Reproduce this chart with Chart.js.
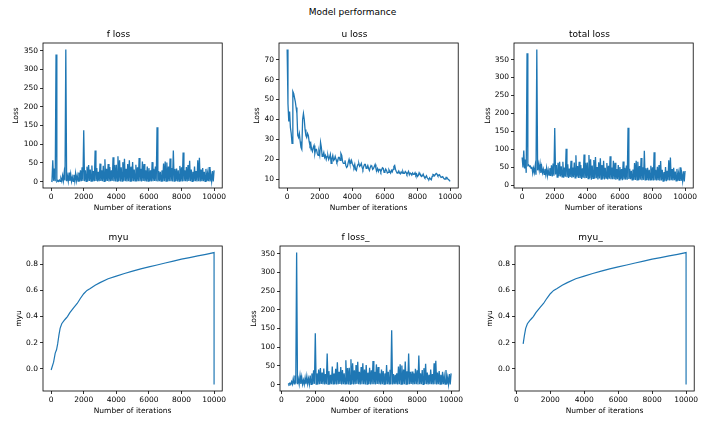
<!DOCTYPE html>
<html>
<head>
<meta charset="utf-8">
<script src="https://cdn.jsdelivr.net/npm/chart.js@4"></script>
<style>
  body { margin: 0; background: #fff; }
  #fig { position: relative; width: 705px; height: 422px; font-family: "DejaVu Sans", sans-serif; }
  #suptitle { position: absolute; left: 0; top: 7px; width: 705px; text-align: center; font-size: 9px; line-height: 10px; color: #000; }
  canvas { position: absolute; }
</style>
</head>
<body>
<div id="fig">
  <div id="suptitle">Model performance</div>
</div>
<script>
// iteration axis (one sample every 100 iterations)
const iterations = [
  0,100,200,300,400,500,600,700,800,900,
  1000,1100,1200,1300,1400,1500,1600,1700,1800,1900,
  2000,2100,2200,2300,2400,2500,2600,2700,2800,2900,
  3000,3100,3200,3300,3400,3500,3600,3700,3800,3900,
  4000,4100,4200,4300,4400,4500,4600,4700,4800,4900,
  5000,5100,5200,5300,5400,5500,5600,5700,5800,5900,
  6000,6100,6200,6300,6400,6500,6600,6700,6800,6900,
  7000,7100,7200,7300,7400,7500,7600,7700,7800,7900,
  8000,8100,8200,8300,8400,8500,8600,8700,8800,8900,
  9000,9100,9200,9300,9400,9500,9600,9700,9800,9900,
  10000
];
const halfStep = 50;   // the in-between readings sit half a step later

// f loss: peak read at each iteration step, low read half a step later
const fLossPeak = [
  2,57,35,340,3,4,8,16,24,353,
  15,24,20,12,18,22,16,24,30,38,
  137,30,40,44,32,43,28,83,36,26,
  48,30,42,60,34,47,39,30,65,44,
  45,68,57,38,52,61,34,47,57,40,
  52,32,45,38,63,34,54,47,30,40,
  36,30,52,34,40,145,28,26,30,48,
  54,51,40,62,36,83,34,35,30,42,
  38,78,30,39,44,56,32,26,40,28,
  57,64,32,36,26,34,22,39,19,28,
  30
];
const fLossLow = [
  1,2,1,0.5,0.5,0.5,1,2,3,1,
  1,2,1,0.5,1,2,1,0.5,1,2,
  1,0.5,1,2,1,0.5,1,1.5,0.5,1,
  2,1,0.5,1,1.5,0.5,1,2,1,0.5,
  1,1.5,0.5,1,2,1,0.5,1,1,0.5,
  1,2,0.5,1,1,0.5,1.5,1,0.5,1,
  1,0.5,1,2,1,0.5,1,1,0.5,1,
  1.5,0.5,1,1,0.5,1,2,0.5,1,1,
  0.5,1,1,0.5,1.5,1,0.5,1,1,0.5,
  1,0.5,1,1,0.5,1,1,0.5,1,0.5
];

// u loss at each iteration step, and half a step later
const uLoss = [
  75,39,36,28,53,49,43,31,29,25,
  43,35,31,32,27,25,26,23,25,22,
  22,26,22,21,20,22,21,18,22,20,
  20,19,21,23,19,18,17,16.5,20,18,
  18,16,15,16.5,18,17,16,16.5,17.5,16,
  15.5,16,16.5,15.5,17.5,14.5,14,15,14.8,15.5,
  14,14.5,13.5,14,14.5,15,17,14,13.5,13.2,
  13.8,14,13,13.5,13.2,12.3,12.8,13.2,12.5,12,
  11.5,13.3,12.3,11.8,11.5,11,10.8,10,10.2,11.5,
  12.3,12.5,12.6,12,11.5,11,10.6,10.2,11,10,
  9
];
const uLossMid = [
  48,44,33,54,51,46,32,33,26,40,
  40,32,33,29,28,24,27,25,23,24,
  28.5,21.5,23.5,22,21.5,20,22.5,20.5,19.5,21.5,
  18.5,21,19.5,22,18,19.5,16,18.5,18,19.5,
  17,17.5,14.5,17.5,16.5,18,15,17.5,15.5,17,
  14.5,17,15,16.5,15.5,15.5,15,13.8,15.8,13.5,
  15.2,13.2,14.8,13.2,13.8,16.5,15,13.2,14.2,12.8,
  13.2,13,14,12.5,14,13.2,12.2,12.5,13.3,12.6,
  12,12.5,11.5,12.6,10.8,11.8,10.2,10.8,9.8,12.5,
  11.8,13,11.8,12.3,11,11.4,10.2,11,10.3,9.6
];

// myu curve
const myuIter = [0,150,250,330,400,480,550,650,800,900,1000,1150,1400,1600,1800,2000,2200,2400,2700,3000,3500,4000,4500,5000,5500,6000,6500,7000,7500,8000,8500,9000,9500,10000,10000];
const myuValue = [-0.01,0.05,0.12,0.145,0.19,0.26,0.31,0.345,0.37,0.385,0.40,0.43,0.47,0.50,0.54,0.575,0.60,0.615,0.64,0.66,0.69,0.71,0.73,0.748,0.765,0.78,0.795,0.81,0.825,0.84,0.852,0.865,0.877,0.89,-0.12];

// tick labels
const xTicks = [0, 2000, 4000, 6000, 8000, 10000];
const lossTicks = [0, 50, 100, 150, 200, 250, 300, 350];
const uTicks = [10, 20, 30, 40, 50, 60, 70];
const myuTicks = [0.0, 0.2, 0.4, 0.6, 0.8];

const trimStart = 400;   // the "_" plots start here

const blue = '#1f77b4';
const family = '"DejaVu Sans", sans-serif';
const fig = document.getElementById('fig');

// build point lists: step reading, then the half-step reading
function interleave(top, mid) {
  const pts = [];
  for (let i = 0; i < iterations.length; i++) {
    pts.push({ x: iterations[i], y: top[i] });
    if (i < mid.length) pts.push({ x: iterations[i] + halfStep, y: mid[i] });
  }
  return pts;
}
const fLossPts = interleave(fLossPeak, fLossLow);
const uLossPts = interleave(uLoss, uLossMid);
const totalPts = interleave(fLossPeak.map((v, i) => v + uLoss[i]), fLossLow.map((v, i) => v + uLossMid[i]));
const myuPts = myuIter.map((x, i) => ({ x: x, y: myuValue[i] }));
const fLossTrim = fLossPts.filter(p => p.x >= trimStart);
const myuTrim = myuPts.filter(p => p.x >= trimStart);

function padRange(vals) {
  const lo = Math.min(...vals), hi = Math.max(...vals);
  const m = (hi - lo) * 0.05;
  return [lo - m, hi + m];
}

// axes frame (all four spines)
const frame = {
  id: 'frame',
  afterDatasetsDraw(chart) {
    const a = chart.chartArea, c = chart.ctx;
    c.save();
    c.strokeStyle = '#000';
    c.lineWidth = 0.8;
    c.strokeRect(a.left, a.top, a.right - a.left, a.bottom - a.top);
    c.restore();
  }
};

const YW = 34, TH = 17, XH = 26, RM = 16, PW = 169, PH = 145;

function makePanel(p) {
  const canvas = document.createElement('canvas');
  canvas.width = YW + PW + RM;
  canvas.height = TH + PH + XH;
  canvas.style.left = (p.left - YW) + 'px';
  canvas.style.top = (p.top - TH) + 'px';
  fig.appendChild(canvas);

  const xl = padRange(p.points.map(d => d.x));
  const yl = padRange(p.points.map(d => d.y));
  const yTicks = p.ticks.filter(v => v >= yl[0] && v <= yl[1]);

  new Chart(canvas, {
    type: 'line',
    data: {
      datasets: [{
        data: p.points,
        borderColor: blue,
        borderWidth: p.lw,
        pointRadius: 0,
        tension: 0,
        fill: false
      }]
    },
    options: {
      responsive: false,
      animation: false,
      events: [],
      layout: { padding: 0 },
      plugins: {
        legend: { display: false },
        tooltip: { enabled: false },
        title: {
          display: true, text: p.title, color: '#000',
          font: { family: family, size: 9, weight: 'normal', lineHeight: 1 },
          padding: { top: 4, bottom: 4 }
        }
      },
      scales: {
        x: {
          type: 'linear', min: xl[0], max: xl[1],
          afterFit: s => { s.height = XH; },
          afterBuildTicks: s => { s.ticks = xTicks.map(v => ({ value: v })); },
          grid: { drawOnChartArea: false, drawTicks: true, tickLength: 3, color: '#000', lineWidth: 0.8 },
          border: { display: false },
          ticks: {
            maxRotation: 0, autoSkip: false,
            padding: 2, color: '#000', font: { family: family, size: 7.5 },
            callback: v => String(v)
          },
          title: {
            display: true, text: 'Number of iterations', color: '#000',
            font: { family: family, size: 7.5, lineHeight: 1 },
            padding: { top: 0, bottom: 2.5 }
          }
        },
        y: {
          type: 'linear', min: yl[0], max: yl[1],
          afterFit: s => { s.width = YW; },
          afterBuildTicks: s => { s.ticks = yTicks.map(v => ({ value: v })); },
          grid: { drawOnChartArea: false, drawTicks: true, tickLength: 3, color: '#000', lineWidth: 0.8 },
          border: { display: false },
          ticks: {
            autoSkip: false,
            padding: 2, color: '#000', font: { family: family, size: 7.5 },
            callback: v => v.toFixed(p.decimals)
          },
          title: {
            display: true, text: p.ylabel, color: '#000',
            font: { family: family, size: 7.5, lineHeight: 1 },
            padding: { top: p.labelPad, bottom: 0 }
          }
        }
      }
    },
    plugins: [frame]
  });
}

const panels = [
  { title: 'f loss', ylabel: 'Loss', left: 43, top: 43, ticks: lossTicks, decimals: 0, labelPad: 3.3, lw: 1.3, points: fLossPts },
  { title: 'u loss', ylabel: 'Loss', left: 279, top: 43, ticks: uTicks, decimals: 0, labelPad: 8, lw: 1.3, points: uLossPts },
  { title: 'total loss', ylabel: 'Loss', left: 514, top: 43, ticks: lossTicks, decimals: 0, labelPad: 4.5, lw: 1.3, points: totalPts },
  { title: 'myu', ylabel: 'myu', left: 43, top: 246, ticks: myuTicks, decimals: 1, labelPad: 6.3, lw: 1.2, points: myuPts },
  { title: 'f loss_', ylabel: 'Loss', left: 280, top: 246, ticks: lossTicks, decimals: 0, labelPad: 3.8, lw: 1.3, points: fLossTrim },
  { title: 'myu_', ylabel: 'myu', left: 515, top: 246, ticks: myuTicks, decimals: 1, labelPad: 5.3, lw: 1.2, points: myuTrim }
];

panels.forEach(makePanel);
</script>
</body>
</html>
